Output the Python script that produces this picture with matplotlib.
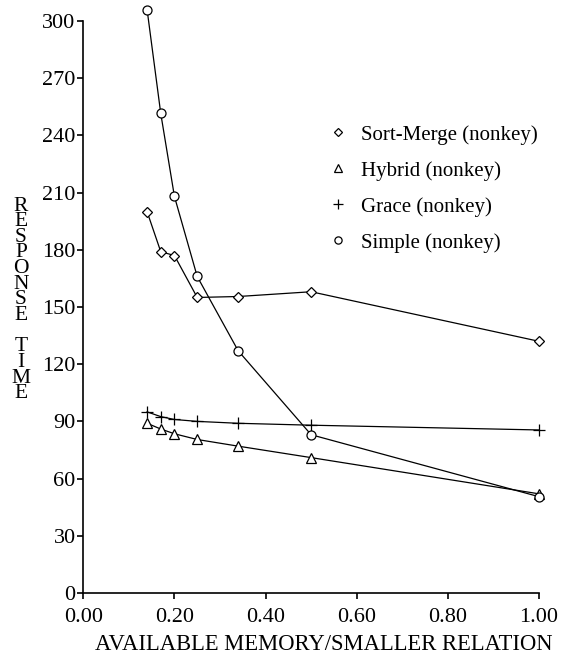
import matplotlib.pyplot as plt

plt.rcParams['font.family'] = ['Liberation Serif', 'DejaVu Serif']

mem = [0.14, 0.17, 0.20, 0.25, 0.34, 0.50, 1.00]
sort_merge = [200, 179, 177, 155, 155.5, 158, 132]
hybrid = [89, 86, 83.5, 80.5, 77, 71, 52]
grace = [95, 92.5, 91, 90, 89, 88, 85.5]
simple = [306, 251.5, 208, 166, 127, 83, 50.5]

series = [
    ("Sort-Merge (nonkey)", sort_merge, 'D', 5),
    ("Hybrid (nonkey)", hybrid, '^', 6.5),
    ("Grace (nonkey)", grace, '+', 8.5),
    ("Simple (nonkey)", simple, 'o', 6.5),
]

fig = plt.figure(figsize=(5.65, 6.59), dpi=100)
ax = fig.add_axes([0.1474, 0.1002, 0.8066, 0.8679])

for name, vals, mk, ms in series:
    ax.plot(mem, vals, color='black', linewidth=0.9, marker=mk, markersize=ms,
            markerfacecolor='white', markeredgecolor='black', markeredgewidth=0.9,
            label=name, clip_on=False)

ax.set_xlim(0, 1.0)
ax.set_ylim(0, 300)
ax.set_xticks([0, 0.2, 0.4, 0.6, 0.8, 1.0])
ax.set_xticklabels([f"{v:.2f}" for v in [0, 0.2, 0.4, 0.6, 0.8, 1.0]])
ax.set_yticks(range(0, 301, 30))
ax.tick_params(axis='both', labelsize=16, direction='out', length=4.5, width=1.2)
ax.tick_params(axis='y', pad=1)
ax.tick_params(axis='x', pad=6)

for s in ['top', 'right']:
    ax.spines[s].set_visible(False)
for s in ['left', 'bottom']:
    ax.spines[s].set_linewidth(1.2)

# stacked y label
ylab = "RESPONSE TIME"
fig.text(0.037, 0.545, "\n".join(ylab), fontsize=15.5, ha='center', va='center',
         linespacing=0.76)
fig.text(0.573, 1 - 645 / 659, "AVAILABLE MEMORY/SMALLER RELATION", fontsize=16.3,
         ha='center', va='center')

labels = [s[0] for s in series]
leg_h = []
for name, vals, mk, ms in series:
    h, = ax.plot([], [], linestyle='none', marker=mk, markersize=ms * 0.8,
                 markerfacecolor='white', markeredgecolor='black', markeredgewidth=0.9)
    leg_h.append(h)
ax.legend(leg_h, labels, loc='upper left', bbox_to_anchor=(330 / 565, 1 - 125 / 659),
          bbox_transform=fig.transFigure, frameon=False, fontsize=15,
          handlelength=0.8, handletextpad=0.7, labelspacing=0.78, borderpad=0,
          borderaxespad=0)

fig.savefig("out.png", dpi=100)
